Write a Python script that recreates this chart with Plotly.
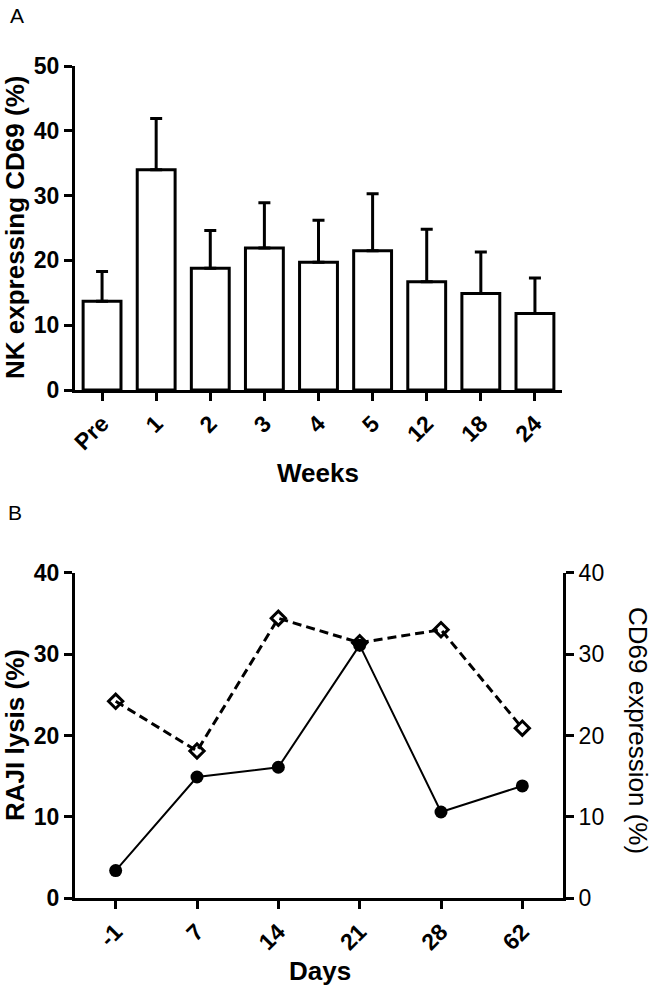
import plotly.graph_objects as go

# Panel A data
weeks = ["Pre", "1", "2", "3", "4", "5", "12", "18", "24"]
cd69_mean = [13.7, 34.0, 18.8, 21.9, 19.7, 21.5, 16.7, 14.9, 11.8]
cd69_err = [4.6, 7.9, 5.8, 7.0, 6.5, 8.8, 8.1, 6.4, 5.5]

# Panel B data
days = ["-1", "7", "14", "21", "28", "62"]
raji_lysis = [3.4, 14.9, 16.1, 31.1, 10.6, 13.8]
cd69_expr = [24.2, 18.1, 34.4, 31.4, 33.0, 20.9]

W, H = 652, 987
FONT = "Liberation Sans, Arial, Helvetica, sans-serif"

def px_x(x):
    return x / W

def px_y(y):
    return 1 - y / H

fig = go.Figure()

fig.add_trace(go.Bar(
    x=weeks, y=cd69_mean, width=0.7,
    marker=dict(color="white", line=dict(color="black", width=3)),
    error_y=dict(type="data", symmetric=False, array=cd69_err,
                 arrayminus=[0] * len(cd69_err), color="black",
                 thickness=3, width=6),
    xaxis="x", yaxis="y", showlegend=False, hoverinfo="skip",
))

fig.add_trace(go.Scatter(
    x=days, y=cd69_expr, mode="lines+markers",
    line=dict(color="black", width=3, dash="9px,5px"),
    marker=dict(symbol="diamond-open", size=11, color="black",
                line=dict(color="black", width=3)),
    xaxis="x2", yaxis="y3", showlegend=False, hoverinfo="skip",
))

fig.add_trace(go.Scatter(
    x=days, y=raji_lysis, mode="lines+markers",
    line=dict(color="black", width=2),
    marker=dict(symbol="circle", size=13, color="black"),
    xaxis="x2", yaxis="y2", showlegend=False, hoverinfo="skip",
))

axis_common = dict(
    showline=True, linecolor="black", linewidth=3,
    ticks="outside", ticklen=8, tickwidth=3, tickcolor="black",
    showgrid=False, zeroline=False, automargin=False,
)

tickfont_b = dict(family=FONT, size=23, color="black", weight="bold")
tickfont_r = dict(family=FONT, size=23, color="black")

fig.update_layout(
    template="none",
    width=W, height=H,
    margin=dict(l=0, r=0, t=0, b=0, pad=0),
    paper_bgcolor="white", plot_bgcolor="white",
    xaxis=dict(domain=[px_x(75), px_x(562)], anchor="y", type="category",
               range=[-0.5, 8.5], tickangle=-45, tickfont=tickfont_b,
               **axis_common),
    yaxis=dict(domain=[px_y(390), px_y(66)], anchor="x", range=[0, 50],
               tickvals=[0, 10, 20, 30, 40, 50], tickfont=tickfont_b,
               **axis_common),
    xaxis2=dict(domain=[px_x(75), px_x(563)], anchor="y2", type="category",
                range=[-0.5, 5.5], tickangle=-45, tickfont=tickfont_b,
                **axis_common),
    yaxis2=dict(domain=[px_y(898.3), px_y(572.7)], anchor="x2", range=[0, 40],
                tickvals=[0, 10, 20, 30, 40], tickfont=tickfont_b,
                **axis_common),
    yaxis3=dict(overlaying="y2", side="right", anchor="x2", range=[0, 40],
                tickvals=[0, 10, 20, 30, 40], tickfont=tickfont_r,
                **axis_common),
)

ann = [
    dict(text="A", x=px_x(8), y=px_y(2), xanchor="left", yanchor="top",
         font=dict(family=FONT, size=21, color="black")),
    dict(text="B", x=px_x(6), y=px_y(499), xanchor="left", yanchor="top",
         font=dict(family=FONT, size=21, color="black")),
    dict(text="NK expressing CD69 (%)", x=px_x(15), y=px_y(228), textangle=-90,
         xanchor="center", yanchor="middle",
         font=dict(family=FONT, size=26, color="black", weight="bold")),
    dict(text="Weeks", x=px_x(318), y=px_y(473), xanchor="center", yanchor="middle",
         font=dict(family=FONT, size=26, color="black", weight="bold")),
    dict(text="RAJI lysis (%)", x=px_x(15), y=px_y(735), textangle=-90,
         xanchor="center", yanchor="middle",
         font=dict(family=FONT, size=26, color="black", weight="bold")),
    dict(text="Days", x=px_x(320), y=px_y(971), xanchor="center", yanchor="middle",
         font=dict(family=FONT, size=26, color="black", weight="bold")),
    dict(text="CD69 expression (%)", x=px_x(638), y=px_y(730), textangle=90,
         xanchor="center", yanchor="middle",
         font=dict(family=FONT, size=26, color="black")),
]
for a in ann:
    a.update(xref="paper", yref="paper", showarrow=False)
fig.update_layout(annotations=ann)

fig.write_html("out.html",
               config={"displayModeBar": False},
               post_script="document.body.style.margin='0';document.body.style.overflow='hidden';")
